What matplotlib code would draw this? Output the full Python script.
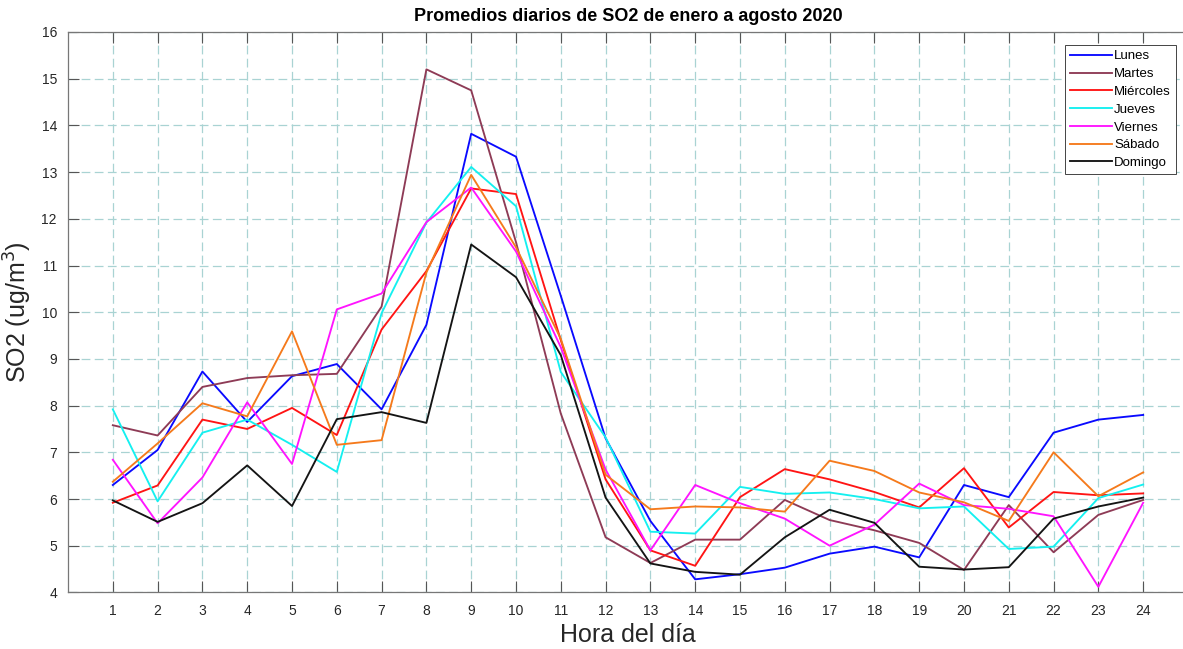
import matplotlib
matplotlib.use("Agg")
import matplotlib.pyplot as plt
import numpy as np

plt.rcParams['font.family'] = ['Liberation Sans', 'DejaVu Sans']

# datos
horas = list(range(1, 25))
dias = ['Lunes', 'Martes', 'Miércoles', 'Jueves', 'Viernes', 'Sábado', 'Domingo']
lunes = [6.30, 7.05, 8.73, 7.65, 8.63, 8.89, 7.92, 9.73, 13.82, 13.33, 10.35, 7.30,
         5.53, 4.28, 4.39, 4.53, 4.83, 4.98, 4.75, 6.30, 6.04, 7.42, 7.70, 7.80]
martes = [7.58, 7.36, 8.40, 8.59, 8.65, 8.68, 10.12, 15.20, 14.75, 11.50, 7.83, 5.18,
          4.63, 5.13, 5.13, 5.98, 5.55, 5.33, 5.06, 4.48, 5.87, 4.86, 5.66, 5.98]
miercoles = [5.92, 6.29, 7.70, 7.50, 7.95, 7.37, 9.63, 10.88, 12.65, 12.53, 9.40, 6.42,
             4.90, 4.57, 6.04, 6.64, 6.42, 6.15, 5.82, 6.66, 5.39, 6.15, 6.08, 6.12]
jueves = [7.92, 5.95, 7.42, 7.70, 7.16, 6.58, 9.98, 11.92, 13.11, 12.27, 8.72, 7.32,
          5.30, 5.26, 6.26, 6.11, 6.14, 6.00, 5.80, 5.84, 4.93, 4.98, 6.02, 6.31]
viernes = [6.84, 5.48, 6.46, 8.07, 6.75, 10.06, 10.40, 11.93, 12.67, 11.30, 9.25, 6.63,
           4.90, 6.30, 5.91, 5.58, 5.00, 5.45, 6.33, 5.87, 5.79, 5.63, 4.12, 5.92]
sabado = [6.37, 7.19, 8.05, 7.77, 9.59, 7.16, 7.26, 10.85, 12.94, 11.39, 9.43, 6.52,
          5.78, 5.84, 5.82, 5.73, 6.82, 6.60, 6.14, 5.93, 5.53, 7.00, 6.06, 6.57]
domingo = [5.97, 5.51, 5.91, 6.72, 5.85, 7.71, 7.86, 7.63, 11.45, 10.75, 9.08, 6.03,
           4.62, 4.44, 4.38, 5.18, 5.77, 5.49, 4.55, 4.49, 4.54, 5.58, 5.84, 6.03]
series = [lunes, martes, miercoles, jueves, viernes, sabado, domingo]
colores = ['#0a0aff', '#8e3b56', '#ff1414', '#14f0f0', '#ff14ff', '#f57a1c', '#141414']

fig = plt.figure(figsize=(11.83, 6.49), dpi=100)
ax = fig.add_axes([0.0575, 0.0872, 0.9467, 0.8635])

for s, c, d in zip(series, colores, dias):
    ax.plot(horas, s, color=c, lw=1.35, label=d)

ax.set_xlim(0, 25)
ax.set_ylim(4, 16)
ax.set_xticks(horas)
ax.set_yticks(np.arange(4, 17, 1))
ax.grid(True, color='#a9d3d3', linestyle=(0, (7, 3.5)), linewidth=0.9)
ax.tick_params(direction='in', length=8, width=0.8, color='#555555',
               labelcolor='#262626', labelsize=10, top=True, pad=8)
for sp in ax.spines.values():
    sp.set_color('#777777')
    sp.set_linewidth(0.9)

ax.set_title('Promedios diarios de SO2 de enero a agosto 2020',
             fontsize=13, fontweight='bold', pad=8)
ax.set_xlabel('Hora del día', fontsize=18, color='#262626', labelpad=4)
ax.set_ylabel('SO2 (ug/m$^3$)', fontsize=18, color='#262626', labelpad=5)

leg = ax.legend(loc='upper left', bbox_to_anchor=(0.890, 0.977), borderaxespad=0,
                fontsize=9.5, handlelength=3.2, handletextpad=0.15,
                labelspacing=0.42, fancybox=False, framealpha=1)
leg.get_frame().set_edgecolor('#444444')
leg.get_frame().set_linewidth(0.7)

fig.savefig('out.png', dpi=100)
